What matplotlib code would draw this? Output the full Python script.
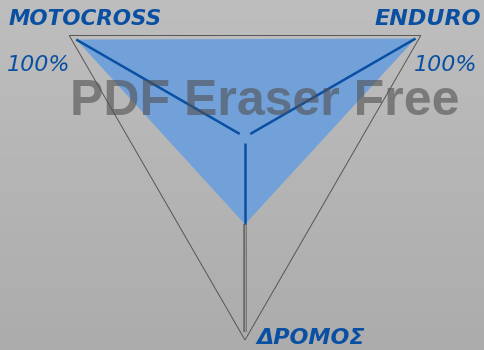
import numpy as np
import matplotlib
matplotlib.use('Agg')
import matplotlib.pyplot as plt
from matplotlib.patches import Polygon

# Data: three riding categories, share in percent
categories = ['MOTOCROSS', 'ENDURO', 'ΔΡΟΜΟΣ']
angles_deg = [150, 30, 270]
values = [96, 97, 43]
scale_label = '100%'

BLUE = '#0a50a2'
FILL = '#72a1da'

W, H = 484, 350
cx, cy, R = 245, 137, 203  # centre in pixels, radius of 100%


def px(x, y):
    """Pixel position (from top-left) to data coordinates."""
    return (x - cx) / R, (cy - y) / R


fig = plt.figure(figsize=(W / 100, H / 100), dpi=100)
# gradient background
bg = fig.add_axes([0, 0, 1, 1])
grad = np.linspace(0, 1, 256).reshape(-1, 1)
bg.imshow(grad, aspect='auto', cmap=matplotlib.colors.LinearSegmentedColormap.from_list(
    'g', ['#bebebe', '#acacac']), extent=[0, 1, 0, 1], origin='upper')
bg.axis('off')

ax = fig.add_axes([0, 0, 1, 1])
ax.patch.set_alpha(0)
ax.axis('off')
ax.set_xlim(-cx / R, (W - cx) / R)
ax.set_ylim(-(H - cy) / R, cy / R)

ang = np.radians(angles_deg)
ux, uy = np.cos(ang), np.sin(ang)

# outer triangle (100%)
ax.add_patch(Polygon(np.column_stack([ux, uy]), closed=True, fill=False,
                     edgecolor='#555555', linewidth=0.7, zorder=2))

# data triangle
v = np.array(values) / 100.0
ax.add_patch(Polygon(np.column_stack([ux * v, uy * v]), closed=True,
                     facecolor=FILL, edgecolor='none', zorder=3))

# spokes: blue inside data, gray beyond
gap = 0.03
for i in range(3):
    ax.plot([ux[i] * gap, ux[i] * v[i]], [uy[i] * gap, uy[i] * v[i]],
            color=BLUE, linewidth=1.8, zorder=4, solid_capstyle='butt')
# gray axis remainder on lower spoke
ax.plot([ux[2] * v[2], ux[2] * 0.96], [uy[2] * v[2], uy[2] * 0.96],
        color='#6a6a6a', linewidth=2.6, zorder=3, solid_capstyle='butt')
ax.plot([ux[2] * v[2], ux[2] * 0.96], [uy[2] * v[2], uy[2] * 0.96],
        color='#9a9a9a', linewidth=0.8, zorder=3, solid_capstyle='butt')

lab_kw = dict(color=BLUE, fontsize=16, fontweight='bold', style='italic',
              zorder=6, va='center')
ax.text(*px(9, 19), categories[0], ha='left', fontsize=15.5,
        **{k: v_ for k, v_ in lab_kw.items() if k != 'fontsize'})
ax.text(*px(481, 19), categories[1], ha='right', **lab_kw)
ax.text(*px(256, 338), categories[2], ha='left', **lab_kw)

pct_kw = dict(color=BLUE, fontsize=16, style='italic', zorder=6, va='center')
ax.text(*px(7, 65), scale_label, ha='left', **pct_kw)
ax.text(*px(414, 65), scale_label, ha='left', **pct_kw)

# watermark
ax.text(*px(265, 102), 'PDF Eraser Free', ha='center', va='center', fontsize=36,
        fontweight='bold', family='Liberation Sans', color='#505050',
        alpha=0.6, zorder=7)

fig.savefig('out.png', dpi=100)
